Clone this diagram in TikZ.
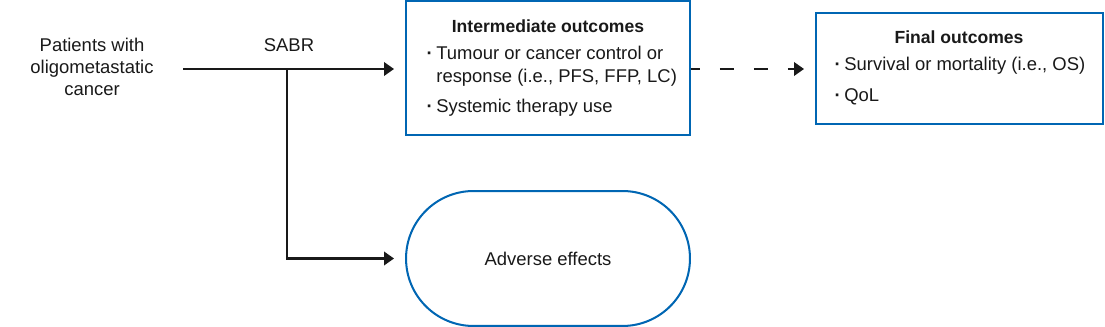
\documentclass[tikz,border=0pt]{standalone}
\usepackage{fontspec}
\setmainfont{Liberation Sans}
\usepackage{tikz}
\usetikzlibrary{shapes.misc, positioning, arrows.meta}
\definecolor{myblue}{RGB}{0,102,179}
\colorlet{mytext}{black!90}
\tikzset{
  >={Triangle[length=0.2cm,width=0.27cm]}, % filled arrow heads
  txt/.style={inner sep=0,font=\fontsize{10.5}{12.7}\selectfont,text=mytext},
  title/.style={txt,font=\fontsize{10}{12}\selectfont\bfseries},
  item/.style={txt,anchor=base west},
  box/.style={draw=myblue,line width=1.15pt,minimum width=5.68cm,minimum height=2.68cm,inner sep=0},
  pill/.style={box,rounded rectangle,minimum height=2.7cm,font=\fontsize{10.5}{12.7}\selectfont,text=mytext},
  connect/.style={line width=1.15pt,mytext},
  connect arrow/.style={connect,->,shorten >=0.22cm},
  connect dashed/.style={connect arrow,dash pattern=on 0.28cm off 0.4cm,dash phase=0.1cm}
}
\newcommand*{\itembul}{\makebox[5.5pt][l]{\textbf{·}}}

\begin{document}
\begin{tikzpicture}[x=0.02cm, y=-0.02cm]
  \useasboundingbox (0,0) rectangle (1105,327);

  % Population and intervention
  \node[txt, align=center] (patients) at (92,67) {Patients with\\oligometastatic\\cancer};
  \node[txt, anchor=base] (sabr) at (289,51.7) {SABR};
  \coordinate (start) at (183,69);
  \coordinate (branch) at (287,69);

  % Intermediate outcomes
  \node[box] (inter) at (548,68) {};
  \node[title, anchor=base] (intertitle) at (548,32.5) {Intermediate outcomes};
  \node[item] (inter1) at (426.3,59.5) {\itembul Tumour or cancer control or};
  \node[item] (inter1b) at (436,82.5) {response (i.e., PFS, FFP, LC)};
  \node[item] (inter2) at (426.3,113) {\itembul Systemic therapy use};

  % Final outcomes
  \node[box, minimum width=5.74cm, minimum height=2.22cm] (final) at (959.5,68.3) {};
  \node[title, anchor=base] (finaltitle) at (959,43.3) {Final outcomes};
  \node[item] (final1) at (834.3,71) {\itembul Survival or mortality (i.e., OS)};
  \node[item] (final2) at (834.3,101.5) {\itembul QoL};

  % Adverse effects
  \node[pill] (adverse) at (548,258.5) {Adverse effects};

  % Arrows
  \draw[connect arrow] (start) -- (start -| inter.west);
  \draw[connect arrow] (branch) |- (adverse.west);
  \draw[connect dashed] (inter.east |- start) -- (final.west |- start);
\end{tikzpicture}
\end{document}
